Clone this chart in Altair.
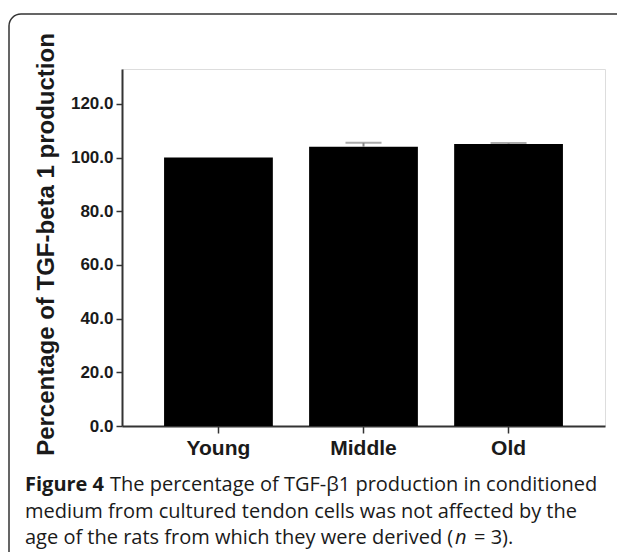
import altair as alt
import pandas as pd

groups = ["Young", "Middle", "Old"]
means = [100.0, 104.0, 105.1]
errors = [0.0, 1.5, 0.3]
y_ticks = [0, 20, 40, 60, 80, 100, 120]

y_title = "Percentage of TGF-beta 1 production"
cap_bold = "Figure 4"
cap_line1 = "The percentage of TGF-\u03b21 production in conditioned"
cap_line2 = "medium from cultured tendon cells was not affected by the"
cap_line3a = "age of the rats from which they were derived ("
cap_line3b = "n"
cap_line3c = "= 3)."

df = pd.DataFrame({"group": groups, "mean": means, "err": errors})
df["hi"] = df["mean"] + df["err"]
err_df = df[df["err"] > 0]

W, H = 483, 357
AX = "Liberation Sans"
CAP = "Open Sans"

xscale = alt.Scale(domain=groups, paddingInner=0.25, paddingOuter=0.29)
yscale = alt.Scale(domain=[0, 133], nice=False)

xaxis = alt.Axis(title=None, labelAngle=0, labelFont=AX, labelFontWeight="bold",
                 labelFontSize=21, labelColor="#1a1a1a", tickSize=7, tickWidth=1.5,
                 tickColor="#333", domainColor="#333", domainWidth=2, labelPadding=4,
                 grid=False)
yaxis = alt.Axis(values=y_ticks, format=".1f", title=y_title, titleFont=AX,
                 titleFontWeight="bold", titleFontSize=24, titleColor="#1a1a1a",
                 titleAngle=270, titleX=-69, titleY=175, titleBaseline="alphabetic",
                 titleAlign="center",
                 labelFont=AX, labelFontWeight="bold", labelFontSize=17,
                 labelColor="#1a1a1a", tickSize=6, tickWidth=1.5, tickColor="#333",
                 domainColor="#333", domainWidth=2, labelPadding=3, grid=False)

base = alt.Chart(df)
bars = base.mark_bar(color="black").encode(
    x=alt.X("group:N", scale=xscale, sort=groups, axis=xaxis),
    y=alt.Y("mean:Q", scale=yscale, axis=yaxis),
)
err_base = alt.Chart(err_df)
rules = err_base.mark_rule(color="#888", strokeWidth=2).encode(
    x=alt.X("group:N", scale=xscale, sort=groups),
    y="mean:Q", y2="hi:Q",
)
caps = err_base.mark_tick(color="#888", size=36, thickness=2, orient="horizontal").encode(
    x=alt.X("group:N", scale=xscale, sort=groups),
    y="hi:Q",
)

one = alt.Chart(pd.DataFrame({"k": [0]}))
frame = one.mark_rect(fillOpacity=0, stroke="#333", strokeWidth=1.5, cornerRadius=12).encode(
    x=alt.value(-113), x2=alt.value(700), y=alt.value(-55), y2=alt.value(700)
)


def txt(s, x, y, weight="normal", style="normal"):
    return alt.Chart(pd.DataFrame({"t": [s]})).mark_text(
        align="left", baseline="alphabetic", font=CAP, fontSize=20,
        fontWeight=weight, fontStyle=style, color="#1a1a1a"
    ).encode(text="t:N", x=alt.value(x), y=alt.value(y))


texts = [
    txt(cap_bold, -97, 422, weight="bold"),
    txt(cap_line1, -12, 422),
    txt(cap_line2, -97, 449),
    txt(cap_line3a, -97, 475),
    txt(cap_line3b, 333, 475, style="italic"),
    txt(cap_line3c, 352, 475),
]

chart = alt.layer(frame, bars, rules, caps, *texts).properties(
    width=W, height=H,
    autosize=alt.AutoSizeParams(type="none"),
    padding={"left": 114, "top": 61, "right": 12, "bottom": 126},
).configure_view(stroke="#333", strokeWidth=2).configure(background="white")

chart.save("out.html", embed_options={"renderer": "svg", "actions": False})
